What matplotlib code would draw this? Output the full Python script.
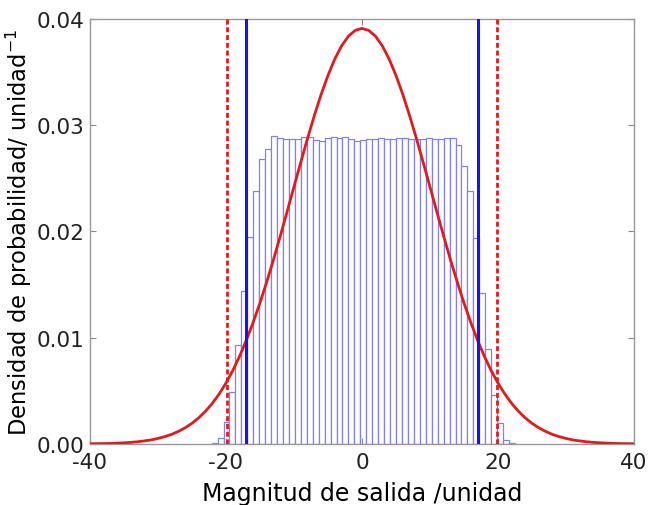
import numpy as np
import matplotlib
matplotlib.use("Agg")
from matplotlib import pyplot as plt

plt.rcParams['font.family'] = ['DejaVu Sans']
plt.rcParams['mathtext.fontset'] = 'dejavusans'
plt.rcParams['axes.unicode_minus'] = False

# histogram of the simulated output (51 bins)
bin_lo = -22.1
bin_hi = 22.5
hist_vals = [0.0001, 0.0006, 0.0021, 0.0049, 0.0093, 0.0144, 0.0195, 0.0238, 0.0268, 0.0278,
             0.0290, 0.0288, 0.0287, 0.0287, 0.0287, 0.0289, 0.0289, 0.0286, 0.0285, 0.0288,
             0.0289, 0.0288, 0.0289, 0.0287, 0.0285, 0.0286, 0.0287, 0.0287, 0.0288, 0.0287,
             0.0287, 0.0288, 0.0288, 0.0287, 0.0287, 0.0287, 0.0288, 0.0287, 0.0287, 0.0288,
             0.0288, 0.0281, 0.0262, 0.0238, 0.0194, 0.0142, 0.0089, 0.0046, 0.0020, 0.0004,
             0.0001]

# gaussian density read at x = 0, 1, ..., 40 (symmetric about 0)
gauss_half = [0.03911, 0.03892, 0.03837, 0.03746, 0.03622, 0.03468, 0.03290, 0.03091, 0.02876,
              0.02650, 0.02419, 0.02187, 0.01958, 0.01736, 0.01525, 0.01326, 0.01143, 0.00975,
              0.00824, 0.00690, 0.00572, 0.00470, 0.00382, 0.00308, 0.00246, 0.00194, 0.00152,
              0.00118, 0.00090, 0.00069, 0.00052, 0.00038, 0.00029, 0.00021, 0.00015, 0.00011,
              0.00008, 0.00005, 0.00004, 0.00003, 0.00002]

# coverage interval limits
lim_blue = [-17.0, 17.0]
lim_red = [-19.9, 19.9]

edges = np.linspace(bin_lo, bin_hi, len(hist_vals) + 1)
xg = np.arange(-40, 41)
yg = np.concatenate([gauss_half[:0:-1], gauss_half])

fig = plt.figure(figsize=(6.51, 5.06), dpi=100)
ax = fig.add_axes([0.138, 0.1206, 0.836, 0.84])

ax.bar(edges[:-1], hist_vals, width=np.diff(edges), align='edge',
       facecolor='white', edgecolor='#8080f0', linewidth=0.9, zorder=1)
ax.plot(xg, yg, color='#e31a1c', linewidth=2.0, zorder=3)
for xv in lim_blue:
    ax.axvline(xv, color='#1414f0', linewidth=2.2, zorder=4)
for xv in lim_red:
    ax.axvline(xv, color='#e31a1c', linewidth=2.0, linestyle=(0, (1.8, 1.0)), zorder=4)

ax.set_xlim(-40, 40)
ax.set_ylim(0, 0.04)
ax.set_xticks([-40, -20, 0, 20, 40])
ax.set_yticks([0.0, 0.01, 0.02, 0.03, 0.04])
ax.set_yticklabels(['0.00', '0.01', '0.02', '0.03', '0.04'])
ax.tick_params(direction='in', length=4, width=0.8, color='#888888',
               top=True, right=True, labelsize=15.5, labelcolor='#222222')
ax.tick_params(axis='x', pad=6)
ax.tick_params(axis='y', pad=4)
for s in ax.spines.values():
    s.set_color('#999999')
    s.set_linewidth(1.0)

ax.set_xlabel('Magnitud de salida /unidad', fontsize=17, labelpad=6)
ax.set_ylabel('Densidad de probabilidad/ unidad$^{\\rm{-}1}$', fontsize=16.3, labelpad=2)

fig.savefig('out.png', dpi=100)
